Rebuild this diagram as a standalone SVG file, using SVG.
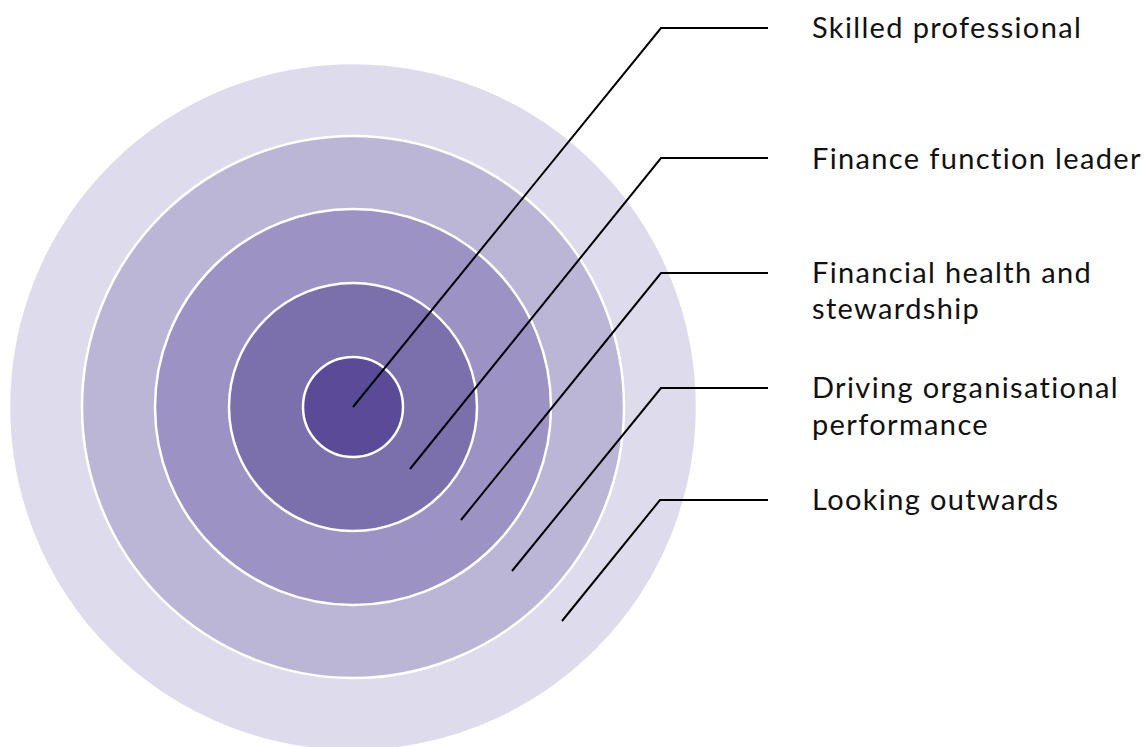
<svg xmlns="http://www.w3.org/2000/svg" width="1144" height="747" viewBox="0 0 1144 747">
<style>
.ring{stroke:#ffffff;stroke-width:2.5}
.lbl{font-family:Lato,"Noto Sans","DejaVu Sans",sans-serif;font-size:29px;letter-spacing:1.35px;fill:#111111}
.con{fill:none;stroke:#000000;stroke-width:2}
</style>
<rect width="1144" height="747" fill="#ffffff"/>
<g id="ring-looking-outwards"><circle class="ring" cx="353" cy="407" r="344" fill="#dedcec"/></g>
<g id="ring-driving"><circle class="ring" cx="353" cy="407" r="271" fill="#bbb6d5"/></g>
<g id="ring-financial-health"><circle class="ring" cx="353" cy="407" r="198" fill="#9c92c4"/></g>
<g id="ring-finance-leader"><circle class="ring" cx="353" cy="407" r="124" fill="#7b6fac"/></g>
<g id="ring-skilled"><circle class="ring" cx="353" cy="407" r="50" fill="#5b4a98"/></g>
<g id="connectors">
<polyline class="con" points="353,407 661,28 768,28"/>
<polyline class="con" points="410,469 661,158 768,158"/>
<polyline class="con" points="461,520 661,273 768,273"/>
<polyline class="con" points="512,571 661,388 768,388"/>
<polyline class="con" points="562,621 660,500 768,500"/>
</g>
<g id="labels">
<text class="lbl" x="812" y="38">Skilled professional</text>
<text class="lbl" x="812" y="169">Finance function leader</text>
<text class="lbl" x="812" y="283">Financial health and</text>
<text class="lbl" x="812" y="319">stewardship</text>
<text class="lbl" x="812" y="398">Driving organisational</text>
<text class="lbl" x="812" y="435">performance</text>
<text class="lbl" x="812" y="510">Looking outwards</text>
</g>
</svg>
